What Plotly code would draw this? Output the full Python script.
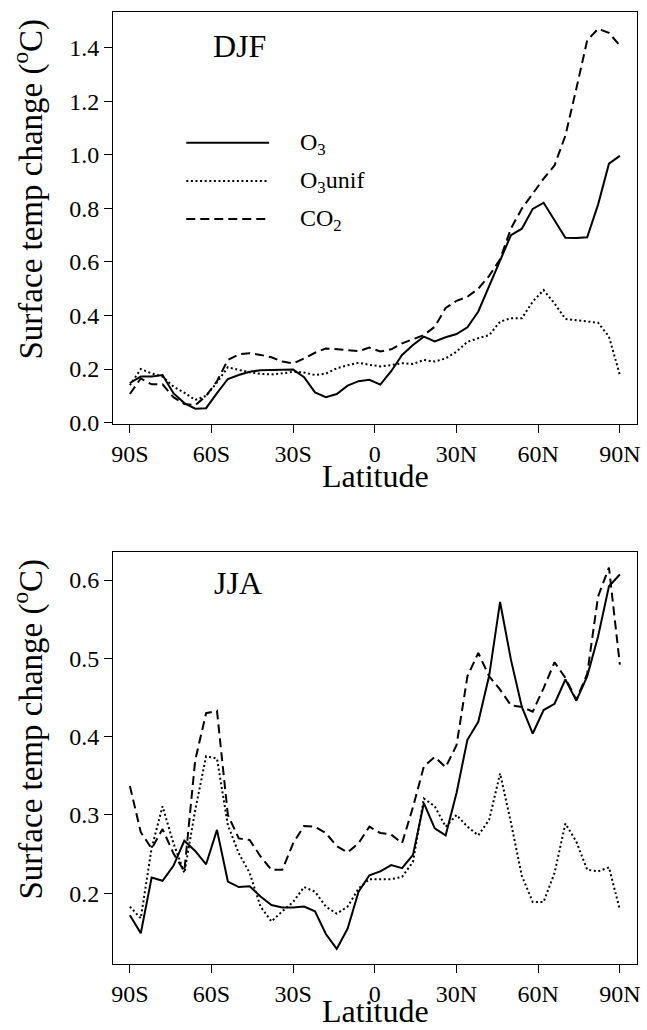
import plotly.graph_objects as go

# ---------------- data ----------------
lat = [-90, -86, -82, -78, -74, -70, -66, -62, -58, -54, -50, -46, -42, -38, -34, -30,
       -26, -22, -18, -14, -10, -6, -2, 2, 6, 10, 14, 18, 22, 26, 30, 34, 38, 42, 46,
       50, 54, 58, 62, 66, 70, 74, 78, 82, 86, 90]

djf_o3 = [0.148, 0.172, 0.172, 0.178, 0.110, 0.073, 0.052, 0.054, 0.110, 0.163, 0.178, 0.190,
          0.196, 0.196, 0.197, 0.198, 0.170, 0.113, 0.095, 0.107, 0.138, 0.155, 0.160, 0.142,
          0.192, 0.253, 0.290, 0.321, 0.303, 0.319, 0.331, 0.356, 0.415, 0.510, 0.610, 0.700,
          0.724, 0.798, 0.821, 0.756, 0.690, 0.689, 0.692, 0.814, 0.967, 0.996]
djf_o3unif = [0.140, 0.200, 0.184, 0.172, 0.135, 0.112, 0.085, 0.100, 0.150, 0.207, 0.197, 0.188,
              0.182, 0.180, 0.184, 0.190, 0.187, 0.178, 0.183, 0.203, 0.214, 0.224, 0.216, 0.210,
              0.215, 0.222, 0.219, 0.234, 0.228, 0.240, 0.265, 0.302, 0.315, 0.327, 0.377, 0.390,
              0.390, 0.452, 0.495, 0.445, 0.387, 0.383, 0.379, 0.373, 0.321, 0.178]
djf_co2 = [0.107, 0.165, 0.143, 0.143, 0.095, 0.070, 0.065, 0.100, 0.155, 0.234, 0.255, 0.259,
           0.253, 0.244, 0.228, 0.221, 0.240, 0.261, 0.277, 0.275, 0.271, 0.267, 0.280, 0.266,
           0.274, 0.296, 0.311, 0.327, 0.358, 0.428, 0.455, 0.470, 0.500, 0.548, 0.610, 0.725,
           0.799, 0.855, 0.911, 0.960, 1.072, 1.246, 1.427, 1.470, 1.455, 1.408]

jja_o3 = [0.172, 0.149, 0.220, 0.216, 0.235, 0.267, 0.254, 0.237, 0.281, 0.215, 0.208, 0.209,
          0.196, 0.185, 0.182, 0.182, 0.183, 0.177, 0.148, 0.129, 0.155, 0.202, 0.223, 0.228,
          0.236, 0.232, 0.249, 0.315, 0.283, 0.274, 0.328, 0.396, 0.419, 0.478, 0.572, 0.498,
          0.438, 0.404, 0.434, 0.442, 0.473, 0.446, 0.477, 0.528, 0.592, 0.607]
jja_o3unif = [0.183, 0.168, 0.258, 0.311, 0.264, 0.226, 0.306, 0.375, 0.372, 0.287, 0.251, 0.226,
              0.183, 0.164, 0.177, 0.189, 0.208, 0.202, 0.183, 0.174, 0.183, 0.206, 0.218, 0.218,
              0.218, 0.221, 0.240, 0.321, 0.311, 0.285, 0.300, 0.285, 0.274, 0.294, 0.353, 0.290,
              0.222, 0.189, 0.189, 0.226, 0.289, 0.266, 0.230, 0.228, 0.233, 0.179]
jja_co2 = [0.337, 0.278, 0.257, 0.282, 0.251, 0.228, 0.370, 0.430, 0.433, 0.300, 0.270, 0.268,
           0.247, 0.230, 0.230, 0.264, 0.286, 0.285, 0.277, 0.260, 0.252, 0.264, 0.285, 0.277,
           0.275, 0.264, 0.310, 0.362, 0.374, 0.361, 0.389, 0.477, 0.507, 0.477, 0.460, 0.440,
           0.438, 0.432, 0.462, 0.495, 0.475, 0.447, 0.480, 0.579, 0.616, 0.492]

x_tickvals = [-90, -60, -30, 0, 30, 60, 90]
x_ticktext = ["90S", "60S", "30S", "0", "30N", "60N", "90N"]
djf_yticks = [0.0, 0.2, 0.4, 0.6, 0.8, 1.0, 1.2, 1.4]
jja_yticks = [0.2, 0.3, 0.4, 0.5, 0.6]
series_names = ["O<sub>3</sub>", "O<sub>3</sub>unif", "CO<sub>2</sub>"]

# ---------------- layout helpers ----------------
W, H = 647, 1030
ML, MR, MT, MB = 113, 7, 12, 66
PW, PH = W - ML - MR, H - MT - MB


def px_x(x):
    return (x - ML) / PW


def px_y(y):
    return (H - MB - y) / PH


FONT = "Liberation Serif"
styles = [dict(color="black", width=2, dash="solid"),
          dict(color="black", width=2, dash="2px,2.6px"),
          dict(color="black", width=2, dash="9px,5px")]

fig = go.Figure()
panels = [("x", "y", [djf_o3, djf_o3unif, djf_co2]),
          ("x2", "y2", [jja_o3, jja_o3unif, jja_co2])]
for xa, ya, sers in panels:
    for name, vals, st in zip(series_names, sers, styles):
        fig.add_trace(go.Scatter(x=lat, y=vals, mode="lines", name=name, line=st,
                                 xaxis=xa, yaxis=ya, showlegend=False))

axis_common = dict(showline=True, mirror=True, linecolor="black", linewidth=1,
                   ticks="outside", ticklen=8, tickwidth=1, tickcolor="black",
                   showgrid=False, zeroline=False,
                   tickfont=dict(family=FONT, size=24, color="black"))

top_dom = [px_y(424), px_y(12)]
bot_dom = [px_y(964), px_y(552.3)]

fig.update_layout(
    width=W, height=H,
    margin=dict(l=ML, r=MR, t=MT, b=MB),
    paper_bgcolor="white", plot_bgcolor="white",
    xaxis=dict(domain=[0, 1], range=[-96.2, 96.3], tickvals=x_tickvals, ticktext=x_ticktext,
               anchor="y", **axis_common),
    yaxis=dict(domain=top_dom, range=[-0.005, 1.533], tickvals=djf_yticks,
               ticktext=["%.1f" % v for v in djf_yticks], anchor="x", **axis_common),
    xaxis2=dict(domain=[0, 1], range=[-96.2, 96.3], tickvals=x_tickvals, ticktext=x_ticktext,
                anchor="y2", **axis_common),
    yaxis2=dict(domain=bot_dom, range=[0.1097, 0.6354], tickvals=jja_yticks,
                ticktext=["%.1f" % v for v in jja_yticks], anchor="x2", **axis_common),
)

ann = []
ytitle = "Surface temp change (<sup>o</sup>C)"
for yc in (189, 729):
    ann.append(dict(text=ytitle, xref="paper", yref="paper", x=px_x(28), y=px_y(yc),
                    xanchor="center", yanchor="middle", textangle=-90, showarrow=False,
                    font=dict(family=FONT, size=33, color="black")))
for yb in (495, 1030):
    ann.append(dict(text="Latitude", xref="paper", yref="paper", x=px_x(376.5), y=px_y(yb),
                    xanchor="center", yanchor="bottom", showarrow=False, borderpad=0,
                    font=dict(family=FONT, size=32, color="black")))
ann.append(dict(text="DJF", xref="paper", yref="paper", x=px_x(240), y=px_y(46),
                xanchor="center", yanchor="middle", showarrow=False,
                font=dict(family=FONT, size=32, color="black")))
ann.append(dict(text="JJA", xref="paper", yref="paper", x=px_x(239), y=px_y(583),
                xanchor="center", yanchor="middle", showarrow=False,
                font=dict(family=FONT, size=32, color="black")))

shapes = []
for name, st, ly in zip(series_names, styles, (142.7, 181, 219)):
    shapes.append(dict(type="line", xref="paper", yref="paper",
                       x0=px_x(186.7), x1=px_x(270), y0=px_y(ly), y1=px_y(ly),
                       line=st))
    ann.append(dict(text=name, xref="paper", yref="paper", x=px_x(299), y=px_y(ly + 1),
                    xanchor="left", yanchor="middle", showarrow=False,
                    font=dict(family=FONT, size=24, color="black")))

fig.update_layout(annotations=ann, shapes=shapes)
fig.write_html("out.html")
